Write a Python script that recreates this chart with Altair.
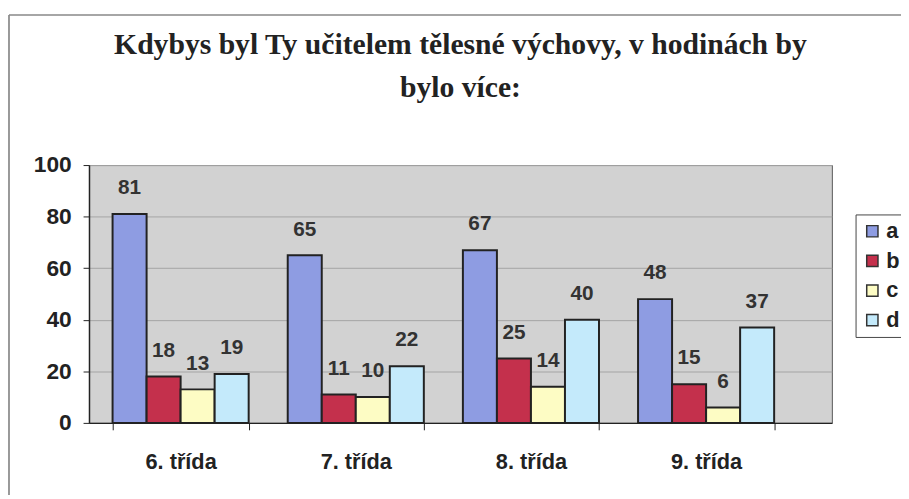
import altair as alt
import pandas as pd

classes = ["6. třída", "7. třída", "8. třída", "9. třída"]
answers = ["a", "b", "c", "d"]
vals_a = [81, 65, 67, 48]
vals_b = [18, 11, 25, 15]
vals_c = [13, 10, 14, 6]
vals_d = [19, 22, 40, 37]
colors = ["#8e9ce2", "#c4304c", "#fdfcc4", "#c4eafb"]
title_lines = ["Kdybys byl Ty učitelem tělesné výchovy, v hodinách by", "bylo více:"]

rows = []
for ans, vals in zip(answers, [vals_a, vals_b, vals_c, vals_d]):
    for cl, v in zip(classes, vals):
        rows.append({"trida": cl, "odpoved": ans, "pocet": v})
df = pd.DataFrame(rows)

FONT = "Liberation Sans"

base = alt.Chart(df).encode(
    x=alt.X(
        "trida:N",
        sort=classes,
        title=None,
        scale=alt.Scale(paddingInner=0.223, paddingOuter=0.232, align=0.29),
        axis=alt.Axis(
            labelAngle=0,
            labelFont=FONT,
            labelFontSize=22,
            labelFontWeight="bold",
            labelColor="#222",
            labelPadding=22,
            tickBand="extent",
            tickSize=7,
            tickColor="#222",
            domainColor="#222",
            domainWidth=1.5,
        ),
    ),
    xOffset=alt.XOffset("odpoved:N", sort=answers, scale=alt.Scale(paddingInner=0, paddingOuter=0)),
    y=alt.Y(
        "pocet:Q",
        title=None,
        scale=alt.Scale(domain=[0, 100]),
        axis=alt.Axis(
            values=[0, 20, 40, 60, 80, 100],
            labelFont=FONT,
            labelFontSize=23,
            labelFontWeight="bold",
            labelColor="#222",
            labelPadding=12,
            tickSize=6,
            tickColor="#222",
            domainColor="#222",
            domainWidth=1.5,
            gridColor="#a4a4a4",
            gridWidth=1,
        ),
    ),
)

bars = base.mark_bar(stroke="#222", strokeWidth=2).encode(
    color=alt.Color(
        "odpoved:N",
        sort=answers,
        scale=alt.Scale(domain=answers, range=colors),
        legend=alt.Legend(
            title=None,
            orient="none",
            legendX=776,
            legendY=50,
            symbolType="square",
            symbolSize=130,
            symbolStrokeColor="#333",
            symbolStrokeWidth=1.5,
            labelFont=FONT,
            labelFontSize=22,
            labelFontWeight="bold",
            labelColor="#222",
            labelOffset=3,
            rowPadding=8,
            padding=6,
            strokeColor="#444",
            fillColor="white",
        ),
    )
)

labels = base.mark_text(dy=-26, font=FONT, fontSize=21, fontWeight="bold", color="#333").encode(
    text="pocet:Q"
)

frame_df = pd.DataFrame({"k": [0]})
frame_left = alt.Chart(frame_df).mark_rule(color="#999", strokeWidth=2).encode(
    x=alt.value(-81), y=alt.value(-152), y2=alt.value(335)
)
frame_top = alt.Chart(frame_df).mark_rule(color="#888", strokeWidth=1.5).encode(
    x=alt.value(-81), x2=alt.value(825), y=alt.value(-152)
)

chart = (
    alt.layer(bars, labels, frame_left, frame_top)
    .properties(
        width=752,
        height=261,
        autosize=alt.AutoSizeParams(type="none"),
        padding={"left": 82, "top": 156, "right": 70, "bottom": 70},
        view=alt.ViewBackground(fill="#d2d2d2", stroke="#555", strokeWidth=1),
        title=alt.Title(
            title_lines,
            font="Liberation Serif",
            fontSize=30,
            fontWeight="bold",
            color="#222",
            anchor="middle",
            offset=-90,
            lineHeight=43,
        ),
    )
    .configure(background="white")
)

chart.save("out.html", embed_options={"renderer": "svg", "actions": False})
